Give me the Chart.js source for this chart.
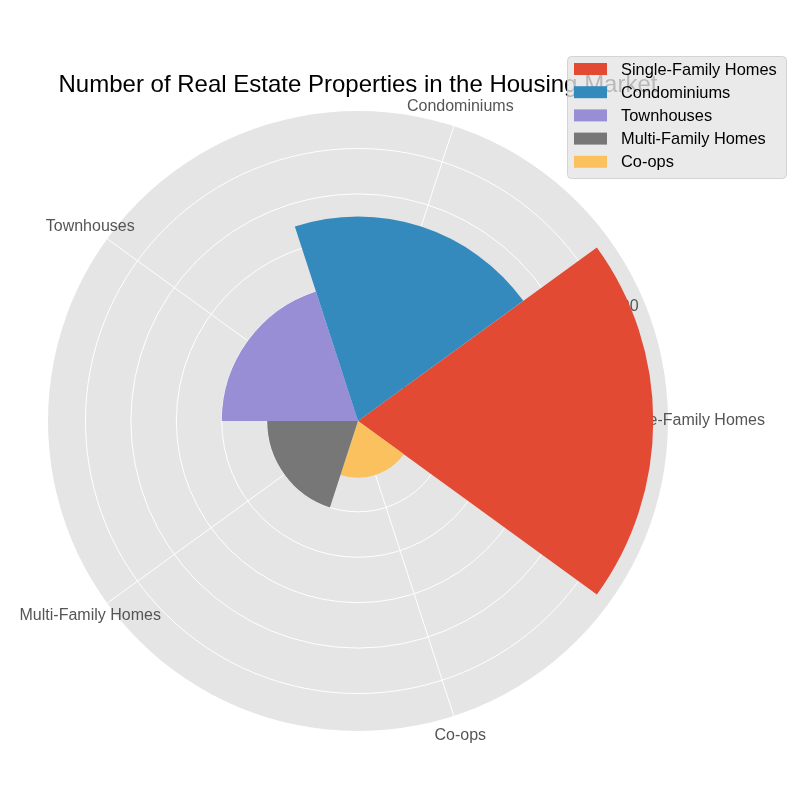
<!DOCTYPE html>
<html>
<head>
<meta charset="utf-8">
<script src="https://cdn.jsdelivr.net/npm/chart.js@4.4.0/dist/chart.umd.min.js"></script>
<style>
  html, body { margin: 0; padding: 0; background: #fff; }
  #wrap { width: 800px; height: 800px; }
</style>
</head>
<body>
<div id="wrap"><canvas id="housingchart"></canvas></div>
<script>
const categories = ['Single-Family Homes', 'Condominiums', 'Townhouses', 'Multi-Family Homes', 'Co-ops'];
const properties = [1300, 900, 600, 400, 250];
const barColors = ['#E24A33', '#348ABD', '#988ED5', '#777777', '#FBC15E'];
const radialTicks = [200, 400, 600, 800, 1000, 1200];
const radialMax = 1365;
const chartTitle = 'Number of Real Estate Properties in the Housing Market';

// the original goes round counter-clockwise, chart.js clockwise -> keep the first slice, reverse the rest
const order = [0, 4, 3, 2, 1];

const FONT = '"Liberation Sans", Arial, sans-serif';

const polarDecor = {
  id: 'polarDecor',
  beforeDraw(chart) {
    const r = chart.scales.r, ctx = chart.ctx;
    ctx.save();
    ctx.fillStyle = '#E5E5E5';
    ctx.beginPath();
    ctx.arc(r.xCenter, r.yCenter, r.drawingArea, 0, Math.PI * 2);
    ctx.fill();
    ctx.restore();
  },
  beforeDatasetsDraw(chart) {
    const r = chart.scales.r, ctx = chart.ctx;
    const outer = r.drawingArea;
    const half = Math.PI / categories.length;
    ctx.save();

    // spokes through the middle of every slice
    ctx.strokeStyle = '#FFFFFF';
    ctx.lineWidth = 1;
    order.forEach((k, i) => {
      const p = r.getPointPosition(i, outer, half);
      ctx.beginPath();
      ctx.moveTo(r.xCenter, r.yCenter);
      ctx.lineTo(p.x, p.y);
      ctx.stroke();
    });

    // category labels
    ctx.fillStyle = '#555555';
    ctx.font = '16px ' + FONT;
    ctx.textAlign = 'center';
    ctx.textBaseline = 'middle';
    order.forEach((k, i) => {
      const p = r.getPointPosition(i, outer + 21, half);
      ctx.fillText(categories[k], p.x, p.y);
    });

    // radial tick labels at 22.5 deg, mostly hidden under the big slice
    const a = -22.5 * Math.PI / 180;
    radialTicks.forEach(v => {
      const d = r.getDistanceFromCenterForValue(v);
      ctx.fillText(String(v), r.xCenter + d * Math.cos(a) + 11, r.yCenter + d * Math.sin(a) - 10);
    });

    // title
    ctx.fillStyle = '#000000';
    ctx.font = '24px ' + FONT;
    ctx.textBaseline = 'alphabetic';
    ctx.fillText(chartTitle, r.xCenter, 92);
    ctx.restore();
  },
  afterDraw(chart) {
    const ctx = chart.ctx;
    const x = 567, y = 56, w = 219, h = 122;
    ctx.save();
    ctx.fillStyle = 'rgba(229,229,229,0.8)';
    ctx.strokeStyle = 'rgba(204,204,204,0.8)';
    ctx.lineWidth = 1;
    ctx.beginPath();
    ctx.roundRect(x + 0.5, y + 0.5, w, h, 4);
    ctx.fill();
    ctx.stroke();
    ctx.font = '16.4px ' + FONT;
    ctx.textAlign = 'left';
    ctx.textBaseline = 'middle';
    categories.forEach((c, k) => {
      const cy = y + 13 + k * 23.2;
      ctx.fillStyle = barColors[k];
      ctx.fillRect(x + 7, cy - 6, 33, 12);
      ctx.fillStyle = '#000000';
      ctx.fillText(c, x + 54, cy + 1);
    });
    ctx.restore();
  }
};

const ctx = document.getElementById('housingchart');

new Chart(ctx, {
  type: 'polarArea',
  data: {
    labels: order.map(k => categories[k]),
    datasets: [{
      data: order.map(k => properties[k]),
      backgroundColor: order.map(k => barColors[k]),
      borderWidth: 0
    }]
  },
  options: {
    responsive: true,
    maintainAspectRatio: false,
    animation: false,
    layout: { padding: { left: 48, top: 111, right: 132, bottom: 69 } },
    plugins: {
      legend: { display: false },
      title: { display: false },
      tooltip: { enabled: false }
    },
    scales: {
      r: {
        startAngle: 54,
        min: 0,
        max: radialMax,
        // keep the 1200 ring, chart.js would merge it into the max
        afterBuildTicks: (scale) => {
          scale.ticks = [0, ...radialTicks].map(v => ({ value: v }));
        },
        ticks: { display: false, stepSize: 200 },
        grid: { color: '#FFFFFF', lineWidth: 1, circular: true },
        angleLines: { display: false },
        pointLabels: { display: false }
      }
    }
  },
  plugins: [polarDecor]
});
</script>
</body>
</html>
